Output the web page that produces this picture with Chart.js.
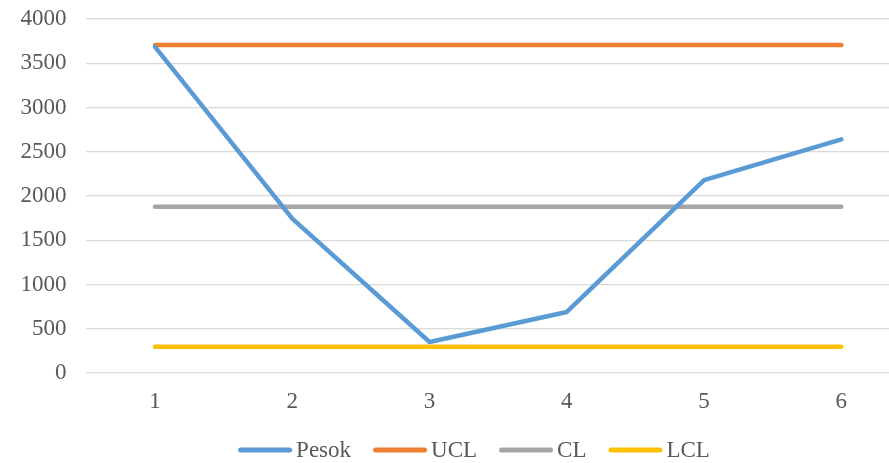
<!DOCTYPE html>
<html>
<head>
<meta charset="utf-8">
<script src="https://cdn.jsdelivr.net/npm/chart.js@4/dist/chart.umd.min.js"></script>
<style>
    html, body { margin: 0; padding: 0; background: #fff; overflow: hidden; }
    #wrap { width: 948px; height: 463px; }
</style>
</head>
<body>
<div id="wrap"><canvas id="controlChart"></canvas></div>
<script>
// Data
const categories = ['1', '2', '3', '4', '5', '6'];
const pesok = [3685, 1745, 350, 690, 2180, 2640];
const ucl = [3705, 3705, 3705, 3705, 3705, 3705];
const cl = [1878, 1878, 1878, 1878, 1878, 1878];
const lcl = [298, 298, 298, 298, 298, 298];
const seriesNames = ['Pesok', 'UCL', 'CL', 'LCL'];
const seriesColors = ['#5B9BD5', '#ED7D31', '#A5A5A5', '#FFC000'];

const textColor = '#595959';
const fontFamily = '"Liberation Serif", "Times New Roman", serif';
const fontSize = 23;

function makeSet(i, values) {
    return {
        label: seriesNames[i],
        data: values,
        borderColor: seriesColors[i],
        backgroundColor: seriesColors[i],
        borderWidth: 4.5,
        tension: 0,
        pointRadius: 0,
        pointHoverRadius: 0,
        borderCapStyle: 'round',
        borderJoinStyle: 'round',
        fill: false
    };
}

// Legend drawn by hand so the spacing matches the Excel look
const bottomLegend = {
    id: 'bottomLegend',
    afterDraw(chart) {
        const ctx = chart.ctx;
        const sets = chart.data.datasets;
        const lineW = 54, gapText = 4, gapItem = 22, y = 450;
        ctx.save();
        ctx.font = fontSize + 'px ' + fontFamily;
        let total = 0;
        sets.forEach((ds, i) => {
            total += lineW + gapText + ctx.measureText(ds.label).width;
            if (i < sets.length - 1) total += gapItem;
        });
        let x = chart.width / 2 - total / 2;
        sets.forEach(ds => {
            ctx.strokeStyle = ds.borderColor;
            ctx.lineWidth = 5;
            ctx.lineCap = 'round';
            ctx.beginPath();
            ctx.moveTo(x + 2.5, y);
            ctx.lineTo(x + lineW - 2.5, y);
            ctx.stroke();
            x += lineW + gapText;
            ctx.fillStyle = textColor;
            ctx.textBaseline = 'middle';
            ctx.textAlign = 'left';
            ctx.fillText(ds.label, x, y + 1);
            x += ctx.measureText(ds.label).width + gapItem;
        });
        ctx.restore();
    }
};

const ctx = document.getElementById('controlChart').getContext('2d');
const controlChart = new Chart(ctx, {
    type: 'line',
    data: {
        labels: categories,
        datasets: [
            makeSet(0, pesok),
            makeSet(1, ucl),
            makeSet(2, cl),
            makeSet(3, lcl)
        ]
    },
    options: {
        responsive: true,
        maintainAspectRatio: false,
        animation: false,
        devicePixelRatio: 1,
        layout: {
            padding: { top: 19, right: 38, bottom: 48, left: 0 }
        },
        plugins: {
            legend: { display: false },
            tooltip: { enabled: false }
        },
        scales: {
            x: {
                offset: true,
                grid: { display: false, drawTicks: false },
                border: { display: false },
                ticks: {
                    color: textColor,
                    font: { family: fontFamily, size: fontSize },
                    padding: 15
                },
                afterFit(scale) {
                    scale.height = 42;
                    scale.paddingLeft = 0;
                    scale.paddingRight = 0;
                }
            },
            y: {
                min: 0,
                max: 4000,
                ticks: {
                    stepSize: 500,
                    color: textColor,
                    font: { family: fontFamily, size: fontSize },
                    padding: 20,
                    callback: (v) => String(v)
                },
                grid: {
                    color: '#D9D9D9',
                    lineWidth: 1.3,
                    drawTicks: false
                },
                border: { display: false },
                afterFit(scale) {
                    scale.width = 86.4;
                    scale.paddingTop = 0;
                    scale.paddingBottom = 0;
                }
            }
        }
    },
    plugins: [bottomLegend]
});
</script>
</body>
</html>
